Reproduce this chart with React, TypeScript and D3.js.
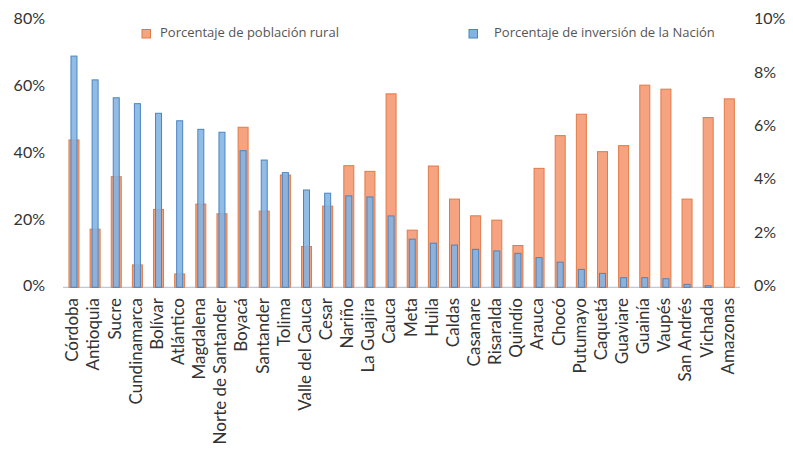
import React from "react";
import * as d3 from "d3";

// Departments, ordered by share of national investment
const departments = [
  "Córdoba", "Antioquia", "Sucre", "Cundinamarca", "Bolívar", "Atlántico",
  "Magdalena", "Norte de Santander", "Boyacá", "Santander", "Tolima",
  "Valle del Cauca", "Cesar", "Nariño", "La Guajira", "Cauca", "Meta",
  "Huila", "Caldas", "Casanare", "Risaralda", "Quindío", "Arauca", "Chocó",
  "Putumayo", "Caquetá", "Guaviare", "Guainía", "Vaupés", "San Andrés",
  "Vichada", "Amazonas",
];

// Share of rural population (%), left axis
const ruralPct = [
  44.1, 17.4, 33.1, 6.7, 23.3, 4.0, 24.9, 22.0, 47.9, 22.8, 33.6, 12.2,
  24.3, 36.4, 34.7, 57.9, 17.1, 36.3, 26.4, 21.4, 20.1, 12.5, 35.6, 45.4,
  51.8, 40.6, 42.4, 60.5, 59.3, 26.4, 50.8, 56.4,
];

// Share of the Nation's investment (%), right axis
const investmentPct = [
  8.65, 7.76, 7.09, 6.87, 6.51, 6.23, 5.91, 5.8, 5.11, 4.76, 4.29, 3.64,
  3.52, 3.42, 3.38, 2.67, 1.8, 1.65, 1.58, 1.42, 1.36, 1.27, 1.11, 0.94,
  0.67, 0.52, 0.36, 0.36, 0.32, 0.11, 0.06, 0,
];

const leftTicks = [0, 20, 40, 60, 80];
const rightTicks = [0, 2, 4, 6, 8, 10];

const legendRural = "Porcentaje de población rural";
const legendInvestment = "Porcentaje de inversión de la Nación";

const W = 793;
const H = 453;
const baseY = 287.3;
const topY = 20;

const ORANGE_FILL = "#F5A380";
const ORANGE_STROKE = "#E27A45";
const BLUE_FILL = "#82B3E2";
const BLUE_STROKE = "#4A85C2";

export default function App() {
  const x = d3.scaleBand<string>().domain(departments).range([63.4, 739.9]).padding(0);
  const yLeft = d3.scaleLinear().domain([0, 80]).range([baseY, topY]);
  const yRight = d3.scaleLinear().domain([0, 10]).range([baseY, topY]);

  const cx = (d: string) => (x(d) ?? 0) + x.bandwidth() / 2;
  const wideW = 10;
  const narrowW = 6;

  const tickFont = "Lato, 'DejaVu Sans', sans-serif";

  return (
    <div style={{ position: "fixed", left: 0, top: 0 }}>
      <svg width={W} height={H} style={{ display: "block", background: "#fff" }}>
        {/* baseline */}
        <line x1={63} x2={740} y1={baseY} y2={baseY} stroke="#BCCBDA" strokeWidth={1.2} />

        {/* bars */}
        {departments.map((d, i) => {
          const r = ruralPct[i];
          const v = investmentPct[i];
          const yr = yLeft(r);
          const yv = yRight(v);
          return (
            <g key={d}>
              <rect
                x={cx(d) - wideW / 2}
                y={yr}
                width={wideW}
                height={baseY - yr}
                fill={ORANGE_FILL}
                stroke={ORANGE_STROKE}
                strokeWidth={1}
              />
              {v > 0 && (
                <rect
                  x={cx(d) - narrowW / 2}
                  y={yv}
                  width={narrowW}
                  height={baseY - yv}
                  fill={BLUE_FILL}
                  fillOpacity={0.88}
                  stroke={BLUE_STROKE}
                  strokeWidth={1}
                />
              )}
            </g>
          );
        })}

        {/* left axis labels */}
        {leftTicks.map((t) => (
          <text
            key={"l" + t}
            x={45}
            y={yLeft(t)}
            textAnchor="end"
            dominantBaseline="middle"
            fontFamily={tickFont}
            fontSize={16}
            fill="#333"
          >
            {t}%
          </text>
        ))}

        {/* right axis labels */}
        {rightTicks.map((t) => (
          <text
            key={"r" + t}
            x={754}
            y={yRight(t)}
            textAnchor="start"
            dominantBaseline="middle"
            fontFamily={tickFont}
            fontSize={16}
            fill="#333"
          >
            {t}%
          </text>
        ))}

        {/* category labels */}
        {departments.map((d) => (
          <text
            key={"x" + d}
            transform={`translate(${cx(d)},298) rotate(-90)`}
            textAnchor="end"
            dominantBaseline="middle"
            fontFamily={tickFont}
            fontSize={17}
            fill="#333"
          >
            {d}
          </text>
        ))}

        {/* legend */}
        <rect x={142} y={29.5} width={8.5} height={8.5} fill={ORANGE_FILL} stroke={ORANGE_STROKE} strokeWidth={1} />
        <text x={160} y={34} dominantBaseline="middle" fontFamily="'Open Sans', sans-serif" fontSize={13} fill="#555">
          {legendRural}
        </text>
        <rect x={469} y={29.5} width={8.5} height={8.5} fill={BLUE_FILL} stroke={BLUE_STROKE} strokeWidth={1} />
        <text x={494} y={34} dominantBaseline="middle" fontFamily="'Open Sans', sans-serif" fontSize={13} fill="#555">
          {legendInvestment}
        </text>
      </svg>
    </div>
  );
}
